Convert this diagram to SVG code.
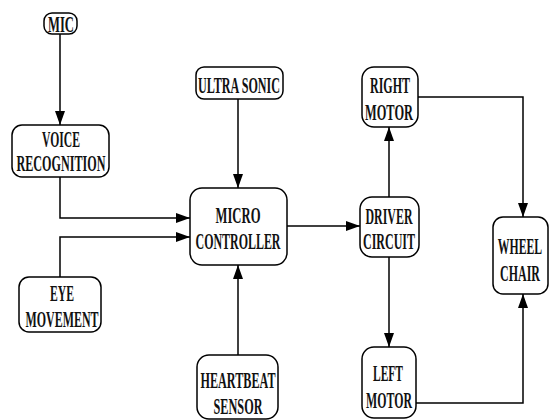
<svg xmlns="http://www.w3.org/2000/svg" width="551" height="420" viewBox="0 0 551 420">
<style>
.box{fill:#fff;stroke:#000;stroke-width:1.5}
.t{font-family:"Liberation Serif","Times New Roman",serif;font-size:23px;fill:#111;text-anchor:middle;font-weight:bold}
.e{fill:none;stroke:#000;stroke-width:1.5}
</style>
<defs>
<marker id="a" viewBox="0 0 14 10" refX="14" refY="5" markerWidth="14" markerHeight="10" markerUnits="userSpaceOnUse" orient="auto">
<path d="M0,0 L14,5 L0,10 Z" fill="#000"/>
</marker>
</defs>
<rect width="551" height="420" fill="#fff"/>
<g id="connectors">
<path class="e" d="M60,34 V125" marker-end="url(#a)"/>
<path class="e" d="M60,177 V218 H190" marker-end="url(#a)"/>
<path class="e" d="M60,277 V237 H190" marker-end="url(#a)"/>
<path class="e" d="M238,99 V188" marker-end="url(#a)"/>
<path class="e" d="M238,355 V265" marker-end="url(#a)"/>
<path class="e" d="M287,226 H360" marker-end="url(#a)"/>
<path class="e" d="M389,197 V127" marker-end="url(#a)"/>
<path class="e" d="M389,257 V347" marker-end="url(#a)"/>
<path class="e" d="M418,97 H523 V217" marker-end="url(#a)"/>
<path class="e" d="M416,403 H523 V294" marker-end="url(#a)"/>
</g>
<g id="mic"><rect class="box" x="44" y="13" width="33" height="21" rx="8"/><text class="t" x="61" y="32" textLength="26" lengthAdjust="spacingAndGlyphs">MIC</text></g>
<g id="voice"><rect class="box" x="12" y="125" width="97" height="52" rx="10"/><text class="t" x="61" y="147" textLength="38" lengthAdjust="spacingAndGlyphs">VOICE</text><text class="t" x="61" y="171" textLength="89" lengthAdjust="spacingAndGlyphs">RECOGNITION</text></g>
<g id="eye"><rect class="box" x="19" y="277" width="82" height="55" rx="10"/><text class="t" x="62" y="301" textLength="24" lengthAdjust="spacingAndGlyphs">EYE</text><text class="t" x="62" y="327" textLength="73" lengthAdjust="spacingAndGlyphs">MOVEMENT</text></g>
<g id="ultrasonic"><rect class="box" x="196" y="67" width="87" height="32" rx="8"/><text class="t" x="239" y="93" textLength="82" lengthAdjust="spacingAndGlyphs">ULTRA SONIC</text></g>
<g id="micro"><rect class="box" x="190" y="188" width="97" height="77" rx="12"/><text class="t" x="238" y="223" textLength="45" lengthAdjust="spacingAndGlyphs">MICRO</text><text class="t" x="238" y="249" textLength="85" lengthAdjust="spacingAndGlyphs">CONTROLLER</text></g>
<g id="heartbeat"><rect class="box" x="197" y="355" width="81" height="64" rx="12"/><text class="t" x="238" y="388" textLength="75" lengthAdjust="spacingAndGlyphs">HEARTBEAT</text><text class="t" x="238" y="414" textLength="49" lengthAdjust="spacingAndGlyphs">SENSOR</text></g>
<g id="driver"><rect class="box" x="360" y="197" width="59" height="60" rx="12"/><text class="t" x="389" y="224" textLength="47" lengthAdjust="spacingAndGlyphs">DRIVER</text><text class="t" x="389" y="249" textLength="52" lengthAdjust="spacingAndGlyphs">CIRCUIT</text></g>
<g id="rightmotor"><rect class="box" x="362" y="67" width="56" height="60" rx="12"/><text class="t" x="390" y="93" textLength="40" lengthAdjust="spacingAndGlyphs">RIGHT</text><text class="t" x="389" y="120" textLength="48" lengthAdjust="spacingAndGlyphs">MOTOR</text></g>
<g id="leftmotor"><rect class="box" x="362" y="347" width="54" height="71" rx="12"/><text class="t" x="388" y="381" textLength="30" lengthAdjust="spacingAndGlyphs">LEFT</text><text class="t" x="389" y="408" textLength="46" lengthAdjust="spacingAndGlyphs">MOTOR</text></g>
<g id="wheelchair"><rect class="box" x="493" y="217" width="55" height="77" rx="10"/><text class="t" transform="translate(520,254) scale(0.51,1)">WHEEL</text><text class="t" transform="translate(520,281) scale(0.52,1)">CHAIR</text></g>
</svg>
